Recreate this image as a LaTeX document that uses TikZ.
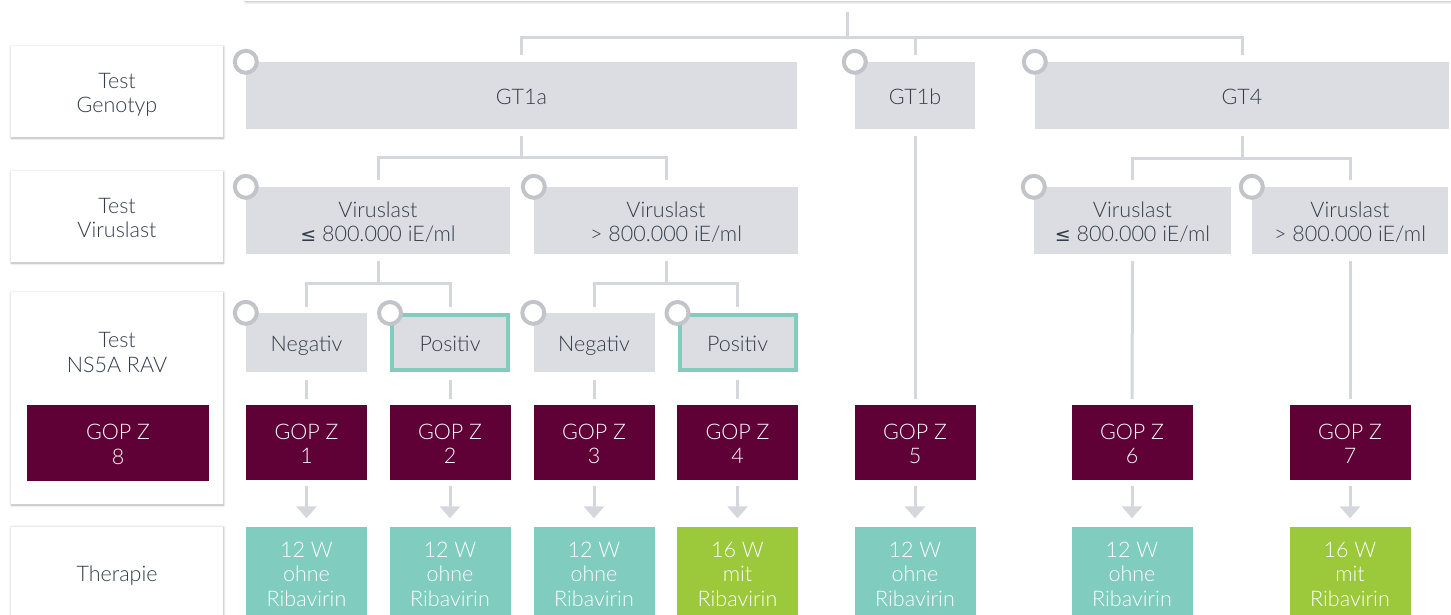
\documentclass[tikz,border=0pt]{standalone}
\usepackage{fontspec}
\setmainfont{Lato}[UprightFont={* Light}]
\newfontfamily\symf{DejaVu Sans}
\usetikzlibrary{calc,arrows.meta,shadows.blur}
\definecolor{boxgray}{HTML}{DCDDE2}
\definecolor{txt}{HTML}{333D4B}
\definecolor{gopc}{HTML}{5F0037}
\definecolor{tealc}{HTML}{80CCBE}
\definecolor{greenc}{HTML}{9CC83C}
\definecolor{linec}{HTML}{D5D7DC}
\definecolor{ringc}{HTML}{C2C4CA}
\newcommand{\topstrut}{\rule{0pt}{21.25pt}}
\newcommand{\botstrut}{\rule[-3.25pt]{0pt}{3.25pt}}
\tikzset{
  basebox/.style={rectangle, inner sep=0pt, align=center, font=\fontsize{21.5}{24.5}\selectfont,
    execute at begin node=\topstrut, execute at end node=\botstrut},
  mtxt/.style={align=center, inner sep=0pt, font=\fontsize{21.5}{24.5}\selectfont, yshift=-1.5pt, text=txt},
  wtxt/.style={mtxt, text=white},
  greybox/.style={basebox, fill=boxgray, text=txt},
  labbox/.style={basebox, fill=white, text=txt, blur shadow={shadow xshift=0.4pt, shadow yshift=-1pt, shadow blur radius=2.5pt, shadow blur steps=6, shadow opacity=30}},
  posbox/.style={greybox, draw=tealc, line width=4pt, minimum width=116pt, minimum height=55pt},
  smallbox/.style={minimum width=121pt, minimum height=59pt},
  gopbox/.style={basebox, fill=gopc, text=white, minimum width=121pt, minimum height=75pt},
  thertwelve/.style={basebox, fill=tealc, text=white, minimum width=121pt, minimum height=92pt},
  thersixteen/.style={basebox, fill=greenc, text=white, minimum width=121pt, minimum height=92pt},
  conn/.style={draw=linec, line width=3pt},
  arr/.style={conn, -{Triangle[width=20pt,length=12pt]}},
  ring/.style={circle, draw=ringc, line width=4pt, fill=white, minimum size=22pt, inner sep=0pt},
}
\newcommand{\leqs}{{\symf\fontsize{19}{24.5}\selectfont ≤}}
\begin{document}
\begin{tikzpicture}[x=1pt,y=-1pt]
\useasboundingbox (0,0) rectangle (1451,614);
% top box
\node[labbox, minimum width=1230pt, minimum height=40pt, anchor=south west] (topbox) at (245,1) {};
% left labels
\node[labbox, minimum width=212pt, minimum height=91pt, label={[mtxt, yshift=-2pt]center:Test\\Genotyp}] (L1) at (117,91.5) {};
\node[labbox, minimum width=212pt, minimum height=91pt, label={[mtxt]center:Test\\Viruslast}] (L2) at (117,216.5) {};
\node[labbox, minimum width=212pt, minimum height=212pt] (L3) at (117,398) {};
\node[mtxt] (L3t) at (117,351) {Test\\NS5A RAV};
\node[gopbox, minimum width=182pt, minimum height=76pt, label={[wtxt]center:GOP Z\\8}] (gop8) at (118,443) {};
\node[labbox, minimum width=212pt, minimum height=92pt] (L4) at (117,572.5) {Therapie};
% genotype row
\node[greybox, minimum width=551pt, minimum height=67pt] (gt1a) at (521.5,95.5) {GT1a};
\node[greybox, minimum width=120pt, minimum height=67pt] (gt1b) at (915,95.5) {GT1b};
\node[greybox, minimum width=414pt, minimum height=67pt] (gt4) at (1242,95.5) {GT4};
% viral load row
\node[greybox, minimum width=264pt, minimum height=67pt, label={[mtxt]center:Viruslast\\\leqs\ 800.000 iE/ml}] (vl1) at (378,220.5) {};
\node[greybox, minimum width=264pt, minimum height=67pt, label={[mtxt]center:Viruslast\\> 800.000 iE/ml}] (vl2) at (666,220.5) {};
\node[greybox, minimum width=197pt, minimum height=67pt, label={[mtxt]center:Viruslast\\\leqs\ 800.000 iE/ml}] (vl3) at (1132.5,220.5) {};
\node[greybox, minimum width=196pt, minimum height=67pt, label={[mtxt]center:Viruslast\\> 800.000 iE/ml}] (vl4) at (1350,220.5) {};
% NS5A row
\node[greybox, smallbox] (neg1) at (306.5,342.5) {Negativ};
\node[posbox] (pos1) at (450,342.5) {Positiv};
\node[greybox, smallbox] (neg2) at (594,342.5) {Negativ};
\node[posbox] (pos2) at (737.5,342.5) {Positiv};
% GOP row
\node[gopbox, label={[wtxt]center:GOP Z\\1}] (gop1) at (306.5,442.5) {};
\node[gopbox, label={[wtxt]center:GOP Z\\2}] (gop2) at (450,442.5) {};
\node[gopbox, label={[wtxt]center:GOP Z\\3}] (gop3) at (594,442.5) {};
\node[gopbox, label={[wtxt]center:GOP Z\\4}] (gop4) at (737.5,442.5) {};
\node[gopbox, label={[wtxt]center:GOP Z\\5}] (gop5) at (915,442.5) {};
\node[gopbox, label={[wtxt]center:GOP Z\\6}] (gop6) at (1132,442.5) {};
\node[gopbox, label={[wtxt]center:GOP Z\\7}] (gop7) at (1350,442.5) {};
% therapy row
\node[thertwelve, label={[wtxt]center:12 W\\ohne\\Ribavirin}] (th1) at (306.5,572.5) {};
\node[thertwelve, label={[wtxt]center:12 W\\ohne\\Ribavirin}] (th2) at (450,572.5) {};
\node[thertwelve, label={[wtxt]center:12 W\\ohne\\Ribavirin}] (th3) at (594,572.5) {};
\node[thersixteen, label={[wtxt]center:16 W\\mit\\Ribavirin}] (th4) at (737.5,572.5) {};
\node[thertwelve, label={[wtxt]center:12 W\\ohne\\Ribavirin}] (th5) at (915,572.5) {};
\node[thertwelve, label={[wtxt]center:12 W\\ohne\\Ribavirin}] (th6) at (1132,572.5) {};
\node[thersixteen, label={[wtxt]center:16 W\\mit\\Ribavirin}] (th7) at (1350,572.5) {};
% connectors
\coordinate (tc) at (847,12);
\coordinate (tj) at (847,37);
\draw[conn] (tc) -- (tj);
\draw[conn] ($(gt1a.north)+(0,-7)$) |- (tj) -| ($(gt4.north)+(0,-7)$);
\draw[conn] ($(gt1b.north)+(0,-7)$) -- (gt1b.north |- tj);
\draw[conn] ($(gt1a.south)+(0,7)$) -- ($(gt1a.south)+(0,28)$) coordinate (j1);
\draw[conn] ($(vl1.north)+(0,-7)$) |- (j1) -| ($(vl2.north)+(0,-7)$);
\draw[conn] ($(gt4.south)+(0,7)$) -- ($(gt4.south)+(0,29)$) coordinate (j4);
\draw[conn] ($(vl3.north)+(0,-7)$) |- (j4) -| ($(vl4.north)+(0,-7)$);
\draw[conn] ($(vl1.south)+(0,7)$) -- ($(vl1.south)+(0,29)$) coordinate (j2);
\draw[conn] ($(neg1.north)+(0,-6)$) |- (j2) -| ($(pos1.north)+(0,-6)$);
\draw[conn] ($(vl2.south)+(0,7)$) -- ($(vl2.south)+(0,29)$) coordinate (j3);
\draw[conn] ($(neg2.north)+(0,-6)$) |- (j3) -| ($(pos2.north)+(0,-6)$);
\draw[conn] ($(gt1b.south)+(0,7)$) -- ($(gop5.north)+(0,-6)$);
\draw[conn] ($(vl3.south)+(0,7)$) -- ($(gop6.north)+(0,-6)$);
\draw[conn] ($(vl4.south)+(0,7)$) -- ($(gop7.north)+(0,-6)$);
\draw[conn] ($(neg1.south)+(0,8)$) -- ($(gop1.north)+(0,-6)$);
\draw[conn] ($(pos1.south)+(0,8)$) -- ($(gop2.north)+(0,-6)$);
\draw[conn] ($(neg2.south)+(0,8)$) -- ($(gop3.north)+(0,-6)$);
\draw[conn] ($(pos2.south)+(0,8)$) -- ($(gop4.north)+(0,-6)$);
\foreach \i in {1,...,7}{
  \draw[arr] ($(gop\i.south)+(0,6)$) -- ($(th\i.north)+(0,-8)$);
}
% rings
\node[ring] (r1) at (gt1a.north west) {};
\node[ring] (r2) at (gt1b.north west) {};
\node[ring] (r3) at (gt4.north west) {};
\node[ring] (r4) at (vl1.north west) {};
\node[ring] (r5) at (vl2.north west) {};
\node[ring] (r6) at (vl3.north west) {};
\node[ring] (r7) at (vl4.north west) {};
\node[ring] (r8) at (neg1.north west) {};
\node[ring] (r9) at (pos1.north west) {};
\node[ring] (r10) at (neg2.north west) {};
\node[ring] (r11) at (pos2.north west) {};
\end{tikzpicture}
\end{document}
